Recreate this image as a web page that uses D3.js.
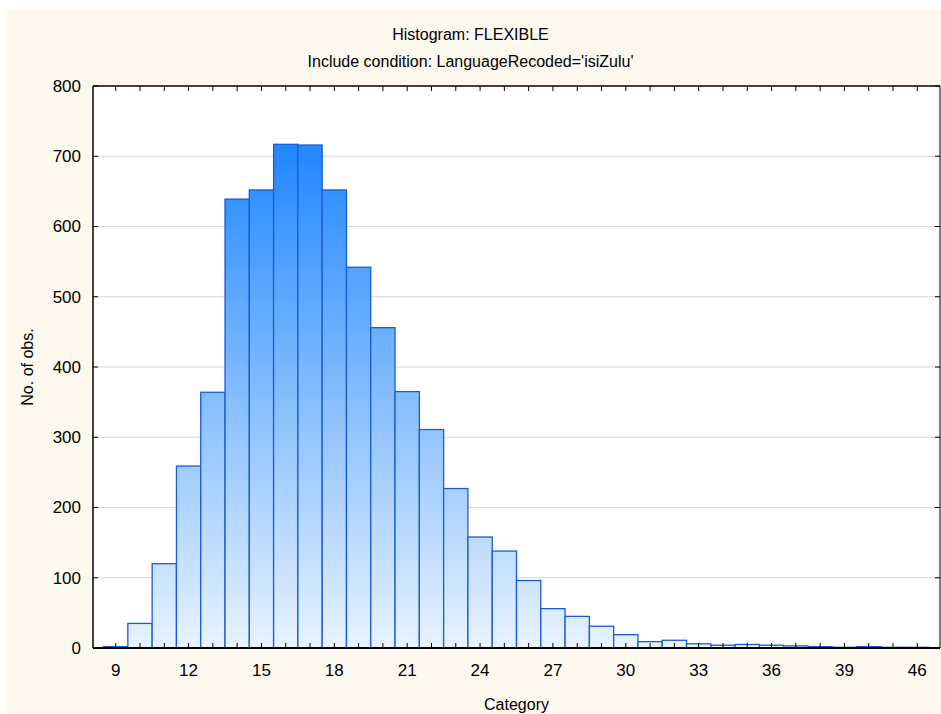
<!DOCTYPE html>
<html lang="en">
<head>
    <meta charset="UTF-8">
    <title>Histogram: FLEXIBLE</title>
    <script src="https://d3js.org/d3.v7.min.js"></script>
    <style>
        body { margin: 0; background: #fff; overflow: hidden; }
        svg text { font-family: "Liberation Sans", Arial, sans-serif; fill: #000; }
    </style>
</head>
<body>
    <div id="chart"></div>

    <script>
        // data
        const categories = ["9","10","11","12","13","14","15","16","17","18","19","20","21","22","23","24","25",
                            "26","27","28","29","30","31","32","33","34","35","36","37","38","39","40","41","46"];
        const counts = [2, 35, 120, 259, 364, 639, 652, 717, 716, 652, 542, 456, 365, 311, 227, 158, 138,
                        96, 56, 45, 31, 19, 9, 11, 6, 4, 5, 4, 3, 2, 1, 2, 1, 1];
        const xTickLabels = ["9","12","15","18","21","24","27","30","33","36","39","46"];
        const yTicks = [0, 100, 200, 300, 400, 500, 600, 700, 800];

        const titleLines = ["Histogram: FLEXIBLE", "Include condition: LanguageRecoded='isiZulu'"];

        const width = 941, height = 714;
        const margin = { top: 86, right: 1, bottom: 66, left: 93 };

        const data = categories.map((c, i) => ({ cat: c, value: counts[i] }));

        const svg = d3.select("#chart").append("svg")
            .attr("width", width)
            .attr("height", height)
            .style("display", "block");

        // cream panel
        svg.append("rect")
            .attr("x", 7).attr("y", 10)
            .attr("width", width - 7).attr("height", height - 10)
            .attr("fill", "#fdf9ef");

        const x = d3.scaleBand()
            .domain(categories)
            .range([margin.left, width - margin.right])
            .paddingInner(0)
            .paddingOuter(0.435);

        const y = d3.scaleLinear()
            .domain([0, 800])
            .range([height - margin.bottom, margin.top]);

        const x0 = margin.left, x1 = width - margin.right;
        const y0 = y(0), y1 = y(800);

        // plot background
        svg.append("rect")
            .attr("x", x0).attr("y", y1)
            .attr("width", x1 - x0).attr("height", y0 - y1)
            .attr("fill", "#fff");

        // gridlines
        svg.append("g")
            .selectAll("line")
            .data(yTicks.filter(d => d > 0 && d < 800))
            .join("line")
            .attr("x1", x0).attr("x2", x1)
            .attr("y1", d => y(d)).attr("y2", d => y(d))
            .attr("stroke", "#d6d6d6")
            .attr("stroke-width", 1);

        // gradient in user space so short bars stay pale
        const grad = svg.append("defs").append("linearGradient")
            .attr("id", "barGrad")
            .attr("gradientUnits", "userSpaceOnUse")
            .attr("x1", 0).attr("x2", 0)
            .attr("y1", y(0)).attr("y2", y(740));
        grad.append("stop").attr("offset", "0%").attr("stop-color", "#e8f3fe");
        grad.append("stop").attr("offset", "100%").attr("stop-color", "#1a84ff");

        svg.append("g")
            .selectAll("rect")
            .data(data)
            .join("rect")
            .attr("x", d => x(d.cat))
            .attr("y", d => y(d.value))
            .attr("width", x.bandwidth())
            .attr("height", d => y(0) - y(d.value))
            .attr("fill", "url(#barGrad)")
            .attr("stroke", "#1c5bd6")
            .attr("stroke-width", 1.3);

        // frame
        const frame = svg.append("g").attr("stroke", "#000");
        frame.append("line").attr("x1", x0).attr("x2", x1).attr("y1", y0).attr("y2", y0).attr("stroke-width", 1.8);
        frame.append("line").attr("x1", x0).attr("x2", x0).attr("y1", y0).attr("y2", y1).attr("stroke-width", 1.5);
        frame.append("line").attr("x1", x0).attr("x2", x1).attr("y1", y1).attr("y2", y1).attr("stroke-width", 1.5);
        frame.append("line").attr("x1", x1).attr("x2", x1).attr("y1", y0).attr("y2", y1).attr("stroke-width", 1);

        // category ticks, bottom and top, pointing inward
        const cx = d => x(d) + x.bandwidth() / 2;
        frame.append("g").selectAll("line").data(categories).join("line")
            .attr("x1", cx).attr("x2", cx)
            .attr("y1", y0).attr("y2", y0 - 5);
        frame.append("g").selectAll("line").data(categories).join("line")
            .attr("x1", cx).attr("x2", cx)
            .attr("y1", y1).attr("y2", y1 + 5);

        // value ticks, left and right, pointing inward
        frame.append("g").selectAll("line").data(yTicks).join("line")
            .attr("x1", x0).attr("x2", x0 + 5)
            .attr("y1", d => y(d)).attr("y2", d => y(d));
        frame.append("g").selectAll("line").data(yTicks).join("line")
            .attr("x1", x1).attr("x2", x1 - 5)
            .attr("y1", d => y(d)).attr("y2", d => y(d));

        // tick labels
        svg.append("g").selectAll("text").data(xTickLabels).join("text")
            .attr("x", cx)
            .attr("y", y0 + 28)
            .attr("text-anchor", "middle")
            .attr("font-size", "17px")
            .text(d => d);

        svg.append("g").selectAll("text").data(yTicks).join("text")
            .attr("x", x0 - 12)
            .attr("y", d => y(d))
            .attr("dy", "0.35em")
            .attr("text-anchor", "end")
            .attr("font-size", "17px")
            .text(d => d);

        // titles
        svg.append("g").selectAll("text").data(titleLines).join("text")
            .attr("x", width / 2)
            .attr("y", (d, i) => 40 + i * 27)
            .attr("text-anchor", "middle")
            .attr("font-size", "16px")
            .text(d => d);

        svg.append("text")
            .attr("x", (x0 + x1) / 2)
            .attr("y", 710)
            .attr("text-anchor", "middle")
            .attr("font-size", "16px")
            .text("Category");

        svg.append("text")
            .attr("transform", `translate(33,${(y0 + y1) / 2}) rotate(-90)`)
            .attr("text-anchor", "middle")
            .attr("font-size", "16px")
            .text("No. of obs.");
    </script>
</body>
</html>
